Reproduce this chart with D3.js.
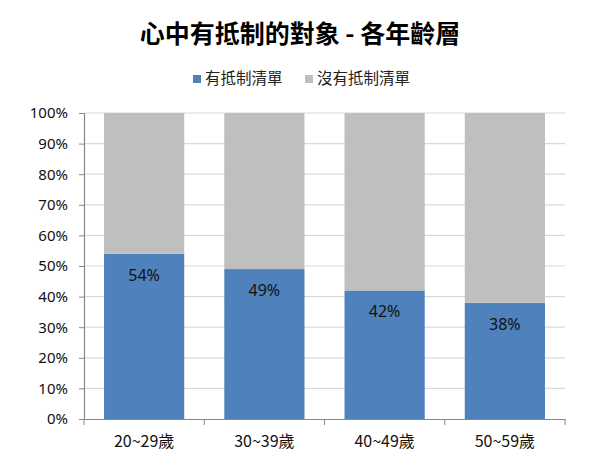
<!DOCTYPE html>
<html>
<head>
<meta charset="utf-8">
<script src="https://cdn.jsdelivr.net/npm/d3@7"></script>
<style>
  body { margin: 0; background: #fff; }
  text { font-family: "Noto Sans CJK TC", "Noto Sans", sans-serif; }
</style>
</head>
<body>
<script>
// 数据
const ageGroups = ["20~29歲", "30~39歲", "40~49歲", "50~59歲"];
const hasList = [54, 49, 42, 38];
const noList = [46, 51, 58, 62];
const seriesNames = ["有抵制清單", "沒有抵制清單"];
const seriesColors = ["#4F81BD", "#BFBFBF"];
const yTicks = [0, 10, 20, 30, 40, 50, 60, 70, 80, 90, 100];

const width = 600, height = 459;
const margin = { top: 113, right: 35, bottom: 40, left: 84 };

const svg = d3.select("body").append("svg")
  .attr("width", width).attr("height", height);

const x = d3.scaleBand().domain(ageGroups)
  .range([margin.left, width - margin.right])
  .paddingInner(0.333).paddingOuter(0.1665);
const y = d3.scaleLinear().domain([0, 100])
  .range([height - margin.bottom, margin.top]);

// 网格线
svg.append("g").selectAll("line").data(yTicks.slice(1)).enter().append("line")
  .attr("x1", margin.left).attr("x2", width - margin.right)
  .attr("y1", d => y(d)).attr("y2", d => y(d))
  .attr("stroke", "#d9d9d9").attr("stroke-width", 1.2);

// 堆叠
const rows = ageGroups.map((g, i) => ({ group: g, a: hasList[i], b: noList[i] }));
const stack = d3.stack().keys(["a", "b"])(rows);

svg.append("g").selectAll("g").data(stack).enter().append("g")
  .attr("fill", (d, i) => seriesColors[i])
  .selectAll("rect").data(d => d).enter().append("rect")
  .attr("x", d => x(d.data.group))
  .attr("width", x.bandwidth())
  .attr("y", d => y(d[1]))
  .attr("height", d => y(d[0]) - y(d[1]));

// 数值标签
svg.append("g").selectAll("text").data(rows).enter().append("text")
  .attr("x", d => x(d.group) + x.bandwidth() / 2)
  .attr("y", d => y(d.a) + 27)
  .attr("text-anchor", "middle")
  .attr("font-size", 16).attr("fill", "#111")
  .style("font-family", '"Noto Sans", sans-serif')
  .text(d => d.a + "%");

// 坐标轴
const yAxis = svg.append("g")
  .attr("transform", `translate(${margin.left},0)`)
  .call(d3.axisLeft(y).tickValues(yTicks).tickFormat(d => d + "%").tickSize(5).tickPadding(11));
const xAxis = svg.append("g")
  .attr("transform", `translate(0,${height - margin.bottom})`)
  .call(d3.axisBottom(x).tickSize(0).tickPadding(17));

// x 轴分隔刻度
const bandStep = x.step();
xAxis.selectAll(".sep").data(d3.range(ageGroups.length + 1)).enter().append("line")
  .attr("class", "sep")
  .attr("x1", i => margin.left + i * bandStep).attr("x2", i => margin.left + i * bandStep)
  .attr("y1", 0).attr("y2", 6)
  .attr("stroke", "#888");

[yAxis, xAxis].forEach(a => {
  a.select(".domain").attr("stroke", "#888").attr("stroke-width", 1.2);
  a.selectAll(".tick line").attr("stroke", "#888");
  a.selectAll("text").attr("font-size", 15).attr("fill", "#111")
    .style("font-family", '"Noto Sans CJK TC", "Noto Sans", sans-serif');
});
yAxis.selectAll("text").style("font-family", '"Noto Sans", sans-serif');
xAxis.selectAll("text").attr("font-size", 16);

// 标题
svg.append("text").attr("x", 300).attr("y", 43)
  .attr("text-anchor", "middle").attr("font-size", 25).attr("font-weight", "bold")
  .attr("fill", "#000").text("心中有抵制的對象 - 各年齡層");

// 图例
const legend = svg.append("g").attr("transform", "translate(0,84)");
const legendX = [193, 305];
seriesNames.forEach((name, i) => {
  legend.append("rect").attr("x", legendX[i]).attr("y", -9)
    .attr("width", 8).attr("height", 8).attr("fill", seriesColors[i]);
  legend.append("text").attr("x", legendX[i] + 12).attr("y", 0)
    .attr("font-size", 15.5).attr("fill", "#222").text(name);
});
</script>
</body>
</html>
